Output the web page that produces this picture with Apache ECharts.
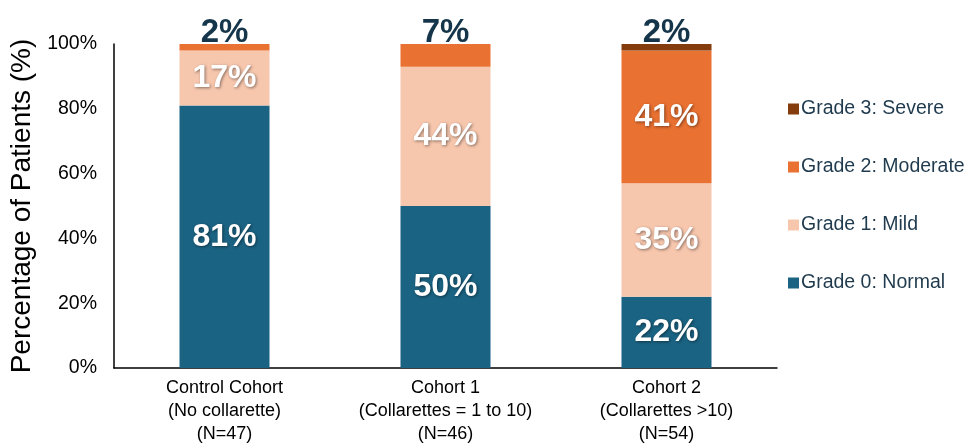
<!DOCTYPE html>
<html>
<head>
<meta charset="utf-8">
<script src="https://cdn.jsdelivr.net/npm/echarts@6/dist/echarts.min.js"></script>
<style>html,body{margin:0;padding:0;background:#fff}#c{width:969px;height:445px}</style>
</head>
<body>
<div id="c"></div>
<script>
var categories = ['Control Cohort\n(No collarette)\n(N=47)', 'Cohort 1\n(Collarettes = 1 to 10)\n(N=46)', 'Cohort 2\n(Collarettes >10)\n(N=54)'];
var seriesNames = ['Grade 0: Normal', 'Grade 1: Mild', 'Grade 2: Moderate', 'Grade 3: Severe'];
var normal = [81, 50, 22];
var mild = [17, 43, 35];
var moderate = [2, 7, 41];
var severe = [0, 0, 2];
var normalLabels = ['81%', '50%', '22%'];
var mildLabels = ['17%', '44%', '35%'];
var moderateLabels = ['2%', '7%', '41%'];
var severeLabels = ['', '', '2%'];
var yTicks = [0, 20, 40, 60, 80, 100];

var colors = ['#1B6383', '#F6C6AD', '#E97132', '#843C0C'];
var allVals = [normal, mild, moderate, severe];
var allLabels = [normalLabels, mildLabels, moderateLabels, severeLabels];

function topIndex(ci) {
  var t = -1;
  for (var s = 0; s < allVals.length; s++) if (allVals[s][ci] > 0) t = s;
  return t;
}

var insideLabel = {
  show: true, position: 'inside', color: '#fff', fontSize: 32, fontWeight: 'bold',
  fontFamily: 'Liberation Sans, Arial, sans-serif',
  textShadowColor: 'rgba(0,0,0,0.45)', textShadowBlur: 3, textShadowOffsetX: 1, textShadowOffsetY: 1
};
var topLabel = {
  show: true, position: 'top', distance: -5, color: '#15364A', fontSize: 33, fontWeight: 'bold',
  fontFamily: 'Liberation Sans, Arial, sans-serif'
};

var series = seriesNames.map(function (name, s) {
  return {
    name: name, type: 'bar', stack: 'total', barWidth: 90,
    itemStyle: { color: colors[s] },
    data: allVals[s].map(function (v, ci) {
      var lbl = allLabels[s][ci];
      var cfg;
      if (!v || !lbl) cfg = { show: false };
      else if (s === topIndex(ci) && v < 10) cfg = Object.assign({}, topLabel, { formatter: lbl });
      else cfg = Object.assign({}, insideLabel, { formatter: lbl });
      return { value: v, label: cfg };
    })
  };
});

var chart = echarts.init(document.getElementById('c'));
chart.setOption({
  animation: false,
  backgroundColor: '#fff',
  grid: { left: 114, right: 192, top: 44, bottom: 77, outerBoundsMode: 'none', containLabel: false },
  legend: {
    orient: 'vertical', left: 783, top: 94, itemWidth: 11, itemHeight: 11, itemGap: 38,
    data: seriesNames.slice().reverse(),
    textStyle: { fontSize: 19.5, color: '#1F3A4D', fontFamily: 'Liberation Sans, Arial, sans-serif', padding: [0, 0, 0, -3] },
    icon: 'rect'
  },
  xAxis: {
    type: 'category', data: categories,
    axisLine: { lineStyle: { color: '#000', width: 1.5 } },
    axisTick: { show: false },
    axisLabel: { interval: 0, color: '#000', fontSize: 18, lineHeight: 23, margin: 9, fontFamily: 'Liberation Sans, Arial, sans-serif' }
  },
  yAxis: {
    type: 'value', min: yTicks[0], max: yTicks[yTicks.length - 1], interval: yTicks[1] - yTicks[0],
    name: 'Percentage of Patients (%)', nameLocation: 'middle', nameGap: 77,
    nameTextStyle: { fontSize: 28, color: '#000', fontFamily: 'Liberation Sans, Arial, sans-serif' },
    axisLine: { show: true, lineStyle: { color: '#000', width: 1.5 } },
    axisTick: { show: false },
    splitLine: { show: false },
    axisLabel: { formatter: '{value}%', color: '#000', fontSize: 19.5, margin: 17, fontFamily: 'Liberation Sans, Arial, sans-serif' }
  },
  series: series
});
</script>
</body>
</html>
